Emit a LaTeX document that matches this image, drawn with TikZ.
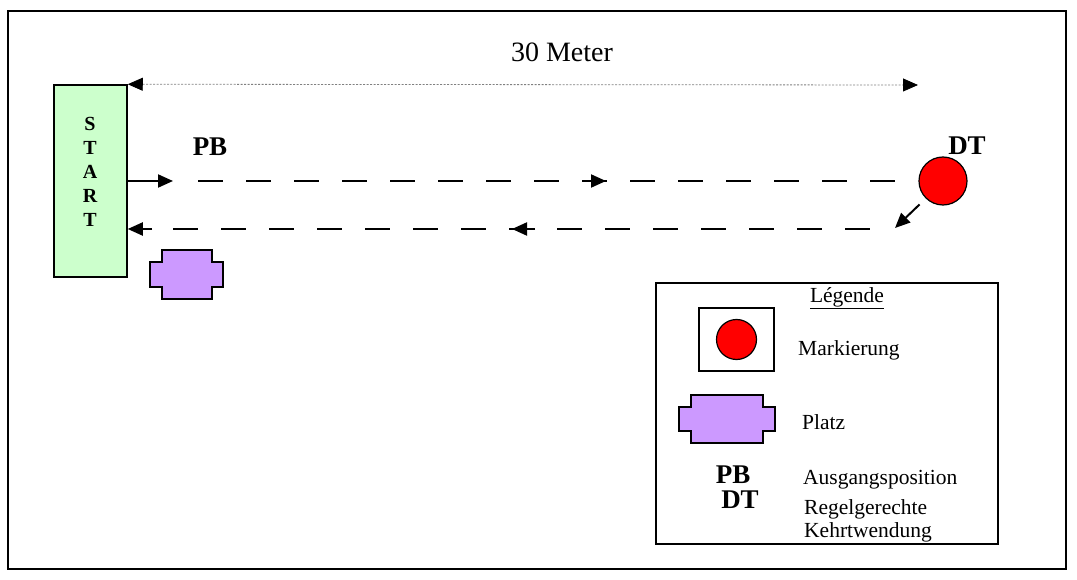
\documentclass[tikz,border=0pt]{standalone}
\usepackage{fontspec}
\setmainfont{Liberation Serif}
\usepackage{xcolor}
\usetikzlibrary{arrows.meta,positioning,calc}
\definecolor{startgreen}{HTML}{CCFFCC}
\definecolor{platzlila}{HTML}{CC99FF}

\begin{document}
\begin{tikzpicture}[x=1pt, y=-1pt,
    startbox/.style={rectangle, draw, line width=1.5pt, fill=startgreen, minimum width=73pt, minimum height=192pt, inner sep=0pt},
    marker/.style={circle, draw, line width=1.2pt, fill=red, minimum size=48pt, inner sep=0pt},
    route/.style={line width=2pt, dash pattern=on 25pt off 23pt},
    arrow/.style={line width=2pt, -{Triangle[length=15pt,width=13pt]}},
    dimline/.style={gray, line width=0.8pt, dash pattern=on 2pt off 1.5pt, {Triangle[length=15pt,width=13pt,color=black]}-{Triangle[length=15pt,width=13pt,color=black]}},
    platz/.style={draw, line width=1.5pt, fill=platzlila},
    txt/.style={font=\fontsize{21.5}{25}\selectfont, inner sep=0pt},
    tag/.style={font=\fontsize{27}{30}\selectfont\bfseries, inner sep=0pt}
]
\useasboundingbox (0,0) rectangle (1077,580);
\draw[line width=2pt] (8,11) rectangle (1066,569);

% Start, Markierung
\node[startbox] (start) at (90.5,181) {};
\node[font=\fontsize{20}{24}\selectfont\bfseries, align=center, inner sep=0pt] (startlbl) at (90,172) {S\\T\\A\\R\\T};
\node[marker] (mark) at (943,181) {};
\node[tag] (pb) at (210,147) {PB};
\node[tag] (dt) at (967,146) {DT};

% 30 Meter
\coordinate (dimend) at (918,85);
\draw[dimline] (start.north east) -- (dimend);
\node[font=\fontsize{28}{32}\selectfont, inner sep=0pt] (dist) at (562,52) {30 Meter};

% Hinweg
\coordinate (go1) at (173,181);
\coordinate (go2) at (198,181);
\coordinate (go3) at (895,181);
\coordinate (gomid) at (583,181);
\coordinate (gotip) at (606,181);
\draw[arrow] (start.east) -- (go1);
\draw[route] (go2) -- (go3);
\draw[arrow] (gomid) -- (gotip);

% Kehrtwendung und Rueckweg
\coordinate (turn) at (895,228);
\draw[arrow] (mark.-135) ++(-6,6) -- (turn);
\coordinate (back1) at (872,229);
\coordinate (back2) at (173,229);
\coordinate (backmid) at (535,229);
\coordinate (backtip) at (512,229);
\coordinate (back3) at (152,229);
\draw[route] (back2) -- (back1);
\draw[arrow] (backmid) -- (backtip);
\draw[arrow] (back3) -- (start.east |- back3);

% Platz
\draw[platz] (162,250) -- (212,250) -- (212,262) -- (223,262) -- (223,287) -- (212,287)
    -- (212,299) -- (162,299) -- (162,287) -- (150,287) -- (150,262) -- (162,262) -- cycle;

% Legende
\node[draw, line width=2pt, minimum width=342pt, minimum height=261pt, anchor=north west, inner sep=0pt] (legend) at (655,282) {};
\node[txt] (legtitle) at (847,298) {\underline{Légende}};
\node[draw, line width=1.2pt, minimum width=75pt, minimum height=63pt, inner sep=0pt] (markbox) at (736.5,339.5) {};
\node[marker, minimum size=40pt] (markleg) at (markbox) {};
\node[txt, anchor=base west] (marktxt) at (798,355) {Markierung};
\draw[platz] (691,395) -- (763,395) -- (763,407) -- (775,407) -- (775,431) -- (763,431)
    -- (763,443) -- (691,443) -- (691,431) -- (679,431) -- (679,407) -- (691,407) -- cycle;
\node[txt, anchor=base west] (platztxt) at (802,429) {Platz};
\node[tag] (pbleg) at (733,475) {PB};
\node[txt, anchor=base west] (pbtxt) at (803,484) {Ausgangsposition};
\node[tag] (dtleg) at (740,500) {DT};
\node[txt, anchor=base west] (regel) at (804,514) {Regelgerechte};
\node[txt, anchor=base west] (kehrt) at (804,537) {Kehrtwendung};

\end{tikzpicture}
\end{document}
